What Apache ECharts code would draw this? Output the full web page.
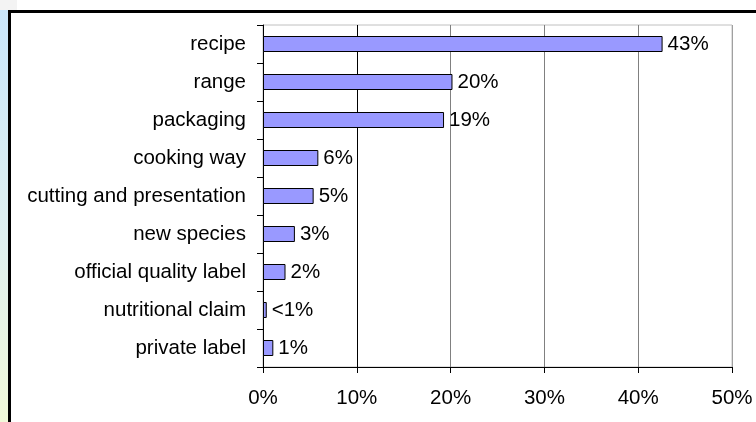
<!DOCTYPE html>
<html>
<head>
<meta charset="utf-8">
<script src="https://cdn.jsdelivr.net/npm/echarts@6/dist/echarts.min.js"></script>
<style>
  html, body { margin: 0; padding: 0; width: 756px; height: 422px; overflow: hidden; background: #ffffff; }
  #side { position: absolute; left: 0; top: 10px; width: 9px; height: 412px;
          background: linear-gradient(to bottom, #c9e6fb 0%, #dff0f0 55%, #f1f9d9 100%); }
  #corner { position: absolute; left: 0; top: 0; width: 17px; height: 10px; background: #f3f3f3; }
  #frame { position: absolute; left: 8px; top: 10px; width: 760px; height: 420px;
           border-left: 3px solid #000; border-top: 3px solid #000; background: #ffffff; }
  #chart { position: absolute; left: 0; top: 0; width: 756px; height: 422px; }
</style>
</head>
<body>
<div id="corner"></div>
<div id="side"></div>
<div id="frame"></div>
<div id="chart"></div>
<script>
// Share of innovations by type (percent)
const categories = [
  'recipe', 'range', 'packaging', 'cooking way', 'cutting and presentation',
  'new species', 'official quality label', 'nutritional claim', 'private label'
];
const shares = [42.6, 20.2, 19.3, 5.9, 5.4, 3.4, 2.4, 0.4, 1.1];
const xTicks = [0, 10, 20, 30, 40, 50];

const font = 'Arial, "Liberation Sans", sans-serif';
const fontSize = 20.5;
const chart = echarts.init(document.getElementById('chart'), null, { renderer: 'canvas' });

chart.setOption({
  animation: false,
  backgroundColor: 'transparent',
  grid: {
    left: 263, right: 24, top: 25, bottom: 55,
    show: true, borderColor: '#c0c0c0', borderWidth: 1, backgroundColor: 'transparent'
  },
  xAxis: {
    type: 'value',
    min: xTicks[0],
    max: xTicks[xTicks.length - 1],
    interval: xTicks[1] - xTicks[0],
    axisLine: { show: true, lineStyle: { color: '#000', width: 1 } },
    axisTick: { show: true, length: 6, lineStyle: { color: '#000' } },
    axisLabel: {
      margin: 21, color: '#000', fontSize: fontSize, fontFamily: font,
      formatter: v => v + '%'
    },
    splitLine: {
      show: true,
      lineStyle: { color: ['#000', '#000', '#808080', '#808080', '#808080', '#a0a0a0'], width: 1 }
    }
  },
  yAxis: {
    type: 'category',
    data: categories,
    inverse: true,
    axisLine: { show: true, lineStyle: { color: '#000', width: 1 } },
    axisTick: { show: true, length: 6, lineStyle: { color: '#000' } },
    axisLabel: { margin: 17, color: '#000', fontSize: fontSize, fontFamily: font },
    splitLine: { show: false }
  },
  series: [{
    type: 'bar',
    data: shares,
    barWidth: 16,
    itemStyle: { color: '#9999ff', borderColor: '#000', borderWidth: 1 },
    label: {
      show: true,
      position: 'right',
      distance: 5,
      color: '#000',
      fontSize: fontSize,
      fontFamily: font,
      formatter: p => (p.value < 0.5 ? '<1' : Math.round(p.value)) + '%'
    }
  }]
});
</script>
</body>
</html>
